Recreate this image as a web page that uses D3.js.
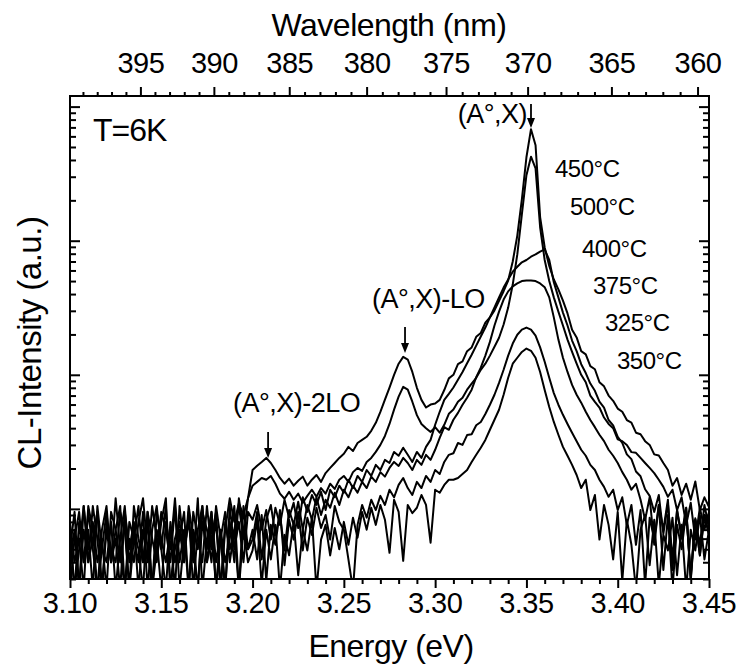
<!DOCTYPE html>
<html>
<head>
<meta charset="utf-8">
<script src="https://cdn.jsdelivr.net/npm/d3@7"></script>
<style>
  body { margin: 0; background: #fff; }
  svg text { font-family: "Liberation Sans", Arial, sans-serif; fill: #000; }
</style>
</head>
<body>
<svg id="chart" width="740" height="671"></svg>
<script>
// CL spectra at T = 6 K, sampled every 2.5 meV from 3.10 eV to 3.45 eV
const energyStart = 3.10;
const energyStep = 0.0025;

const cl450 = [6, 2.5, 8, 4, 9.5, 5, 2.5, 7, 10.5, 4, 6, 2.5, 9.5, 5, 8, 2.5, 7, 4, 10.5, 6, 2.5, 8, 5, 12, 4, 7, 2.5, 9.5, 6, 4, 10.5, 5, 8, 2.5, 7, 12,
  8, 11, 9, 12,
  19.5, 21, 22.4, 24, 22, 19.5, 17, 15.4, 16.8, 14.9,
  16.2, 17.4, 14.9, 16.5, 17.9, 15.9, 18.5, 20.2, 22, 24,
  25.8, 29, 27, 31, 32.7, 34.5, 38.2, 43.8, 52.9, 65.2,
  80.2, 100, 121, 136, 130, 105, 80, 65, 57, 60,
  61, 65, 77, 94, 100, 120, 126, 150, 160, 192,
  205, 245, 268, 302, 356, 420, 505, 700, 1092, 2035,
  4190, 6787, 5150, 1500, 890, 648, 514, 433, 357, 287,
  217, 190, 150, 142, 116, 110, 88, 82, 70, 64,
  56, 53, 46, 44, 37, 36, 32, 30, 25.5, 25,
  22, 19.5, 14.9, 17, 12.7, 15.4, 11.7, 16, 9.8, 12.2, 10.3];

const cl500 = [4, 7, 2.5, 10.5, 5, 8, 4, 6, 2.5, 9.5, 7, 4, 8, 2.5, 10.5, 6, 4, 9.5, 2.5, 7, 5, 10.5, 2.5, 6, 8, 4, 9.5, 2.5, 7, 10.5, 4, 6, 9.5, 2.5, 8, 5, 7, 10.5, 6, 12,
  14.9, 15.9, 17, 16.5, 17.6, 15.4, 13, 11.9, 13.4, 11.7,
  13, 11.1, 12.5, 13.9, 12.3, 14.3, 13, 15.4, 14.1, 16.5,
  17.6, 15.9, 18.8, 20.2, 19.2, 22.4, 24, 26.6, 30, 35,
  43, 55, 68.7, 81.3, 77.4, 63, 50, 43, 40, 37.5,
  40.7, 37, 42.4, 51.2, 55, 63, 67.5, 77.4, 86, 95,
  109, 121, 139, 162, 189, 237, 317, 471, 790, 1572,
  3080, 4235, 3460, 1260, 718, 500, 378, 296, 233, 183,
  148, 121, 100, 88, 70, 62.8, 57, 48, 43, 40,
  33, 32, 30, 26.5, 26.2, 24, 22, 20.2, 18.5, 16.5,
  14.6, 12.3, 13.9, 9.8, 12.2, 7.6, 11.1, 5.9, 10.2, 7, 9.5];

const cl400 = [8, 4, 6, 2.5, 10.5, 7, 2.5, 5, 9.5, 4, 7, 10.5, 2.5, 6, 4, 8, 12, 5, 2.5, 9.5, 6, 4, 7, 2.5, 10.5, 5, 8, 4, 12, 2.5, 6, 9.5, 4, 7, 2.5, 10.5, 5, 8, 4, 9.5,
  8.3, 10.7, 7, 9.8, 5.9, 10.2, 7.6, 11.7, 8.6, 11.1,
  7.2, 12.2, 9.5, 12.7, 10.7, 13.4, 9.8, 13.9, 12.2, 14.9,
  13.2, 16.5, 14.3, 17.6, 15.9, 19.5, 17.6, 21.3, 19.5, 23.2,
  22, 26.6, 24.9, 28.6, 25.3, 22.4, 26.6, 24, 29, 32.7,
  42.4, 53, 65, 72, 80.4, 92, 105, 122, 141, 165,
  193, 225, 268, 318, 378, 447, 514, 588, 640, 690,
  718, 760, 790, 830, 861, 718, 490, 378, 291, 233,
  180, 150, 120, 103, 86, 76, 63, 57, 46, 42,
  34.5, 31, 25.5, 23.5, 19, 17.5, 14, 12.5, 9.5, 12.7,
  6.5, 11, 4.2, 9.8, 6.4, 10.2, 3, 8.5, 5.4, 10.7, 7.2];

const cl375 = [5, 9.5, 2.5, 7, 4, 10.5, 6, 2.5, 8, 5, 4, 9.5, 7, 2.5, 6, 10.5, 4, 8, 2.5, 5, 9.5, 7, 4, 10.5, 2.5, 6, 8, 5, 2.5, 9.5, 7, 4, 10.5, 6, 2.5, 8, 4, 12, 7, 5,
  5.9, 9.5, 4.2, 8.3, 10.7, 6.4, 9, 4.9, 9.8, 7.6,
  11.3, 7, 10.7, 8.3, 12.2, 9, 11.7, 10.2, 13.2, 10.7,
  13.9, 12.2, 14.9, 13.2, 15.9, 14.3, 17.4, 15.9, 18.8, 17.4,
  20.2, 22.4, 20.9, 24, 22, 19.5, 23.2, 21.3, 25.3, 23.2,
  27.6, 33.8, 40.7, 38.9, 46.2, 52, 59.8, 67.5, 77.4,
  96, 113, 139, 176, 233, 296, 364, 419, 456, 480,
  500, 505, 505, 500, 480, 450,
  378, 268, 183, 134, 105, 84, 71, 62, 53, 46, 40.7, 35.7, 32, 27.6, 24.9, 22, 18.8, 16.5, 13.9, 15.4, 11.7,
  8.3, 12.2, 5.4, 10.7, 7, 11.7, 3.5, 9.8, 6, 10.2, 2.9, 8.3, 4.5, 9, 6.4];

const cl325 = [7, 2.5, 5, 10.5, 4, 6, 9.5, 2.5, 7, 4, 12, 5, 2.5, 8, 6, 4, 9.5, 2.5, 7, 10.5, 5, 2.5, 8, 4, 6, 9.5, 2.5, 7, 5, 10.5, 4, 8, 2.5, 6, 9.5, 4, 7, 2.5, 10.5, 5,
  7, 4.2, 9, 2.9, 7.6, 5.4, 9.8, 3.8, 8.3, 5.9,
  9.5, 4.9, 8.6, 6.4, 10.2, 7.2, 9, 5.9, 10.5, 8,
  7, 4.2, 2.5, 7.6, 10.7, 8.6, 11.7, 9.8, 12.5, 10.7,
  13.9, 12.2, 15.1, 17, 14.3, 12.7, 15.9, 14.3, 17.6, 15.9,
  19.5, 18.2, 22.4, 25.3, 26, 31, 30, 35.5, 36, 42,
  44.5, 51, 59.8, 71, 87, 109, 139, 171, 199, 217,
  225, 217, 196, 160, 125, 95, 73, 59.8, 50.3, 43,
  37, 32, 27.6, 24.9, 21.3, 19.5, 16.5, 14.6, 12.3, 13.9,
  9.8, 12.2, 7.6, 10.7, 5.4, 9.8, 2.7, 8.6, 5.9, 10.7,
  3.5, 9, 2.5, 7.6, 5, 9.5, 3.2, 8.3, 4.5, 9, 6.4];

const cl350 = [2.5, 6, 9.5, 4, 7, 2.5, 10.5, 5, 4, 8, 2.5, 6, 10.5, 4, 7, 5, 2.5, 9.5, 6, 4, 8, 12, 2.5, 5, 7, 4, 10.5, 6, 2.5, 8, 5, 9.5, 2.5, 7, 4, 6, 10.5, 2.5, 7, 4,
  4.9, 8.3, 2.7, 7, 4.2, 7.6, 2.5, 6.4, 4.5, 8,
  3.2, 7, 4.9, 8.6, 2.5, 5.9, 7.6, 4.5, 7.2, 5,
  8, 5.4, 8.6, 6.1, 9.5, 7, 10.2, 7.6, 10.7, 8.3,
  4.7, 11.7, 9.5, 4.1, 10.7, 9.3, 10.2, 12.7, 10.7, 5.6,
  13.9, 13.2, 15.1, 16.5,
  16.5, 17, 18.2, 19.5, 22.4, 25.3, 28.6, 32.7, 38.9, 46.2, 54.9, 71, 95, 121, 134, 148, 157,
  151, 134, 105, 77, 57.6, 44.5, 35.7, 29, 24.9, 21.3, 17.9, 14.3,
  16.5, 9.8, 12.7, 5.9, 10.7, 7.6, 4.2, 9.5, 2.9, 8.3, 5.4, 2.5, 7, 9, 3.8, 8.3, 2.7, 6.4, 4.9, 8.6, 3.2, 7.6, 2.5, 7, 4.9, 9, 4.2, 7];

const seriesLabels = ["450°C", "500°C", "400°C", "375°C", "325°C", "350°C"];
const seriesValues = [cl450, cl500, cl400, cl375, cl325, cl350];

const energyTicks = [3.10, 3.15, 3.20, 3.25, 3.30, 3.35, 3.40, 3.45];
const wavelengthTicks = [395, 390, 385, 380, 375, 370, 365, 360];
const intensityDecades = [10, 100, 1000, 10000];

// Peak positions marked by arrows (eV)
const peakMarks = [
  { text: "(A°,X)", energy: 3.3525 },
  { text: "(A°,X)-LO", energy: 3.2835 },
  { text: "(A°,X)-2LO", energy: 3.2085 }
];

const hc = 1239.84; // eV·nm

const plot = { left: 70, right: 709, top: 96, bottom: 579 };

const svg = d3.select("#chart");

const x = d3.scaleLinear().domain([3.10, 3.45]).range([plot.left, plot.right]);
const y = d3.scaleLog().domain([3, 12000]).range([plot.bottom, plot.top]);

svg.append("defs").append("clipPath").attr("id", "plotClip")
  .append("rect")
  .attr("x", plot.left).attr("y", plot.top)
  .attr("width", plot.right - plot.left).attr("height", plot.bottom - plot.top);

// spectra
const line = d3.line()
  .x(d => x(d.e))
  .y(d => y(d.v));

const spectra = svg.append("g").attr("clip-path", "url(#plotClip)");
seriesValues.forEach(vals => {
  const pts = vals.map((v, i) => ({ e: energyStart + i * energyStep, v }));
  spectra.append("path")
    .datum(pts)
    .attr("fill", "none")
    .attr("stroke", "#000")
    .attr("stroke-width", 2)
    .attr("stroke-linejoin", "round")
    .attr("d", line);
});

// axes
const axisStroke = 2;
function styleAxis(g) {
  g.select(".domain").remove();
  g.selectAll(".tick line").attr("stroke", "#000").attr("stroke-width", axisStroke);
  g.selectAll(".tick text").remove();
}

const minorEnergy = d3.range(0, 36).map(k => +(3.10 + k * 0.01).toFixed(2))
  .filter(e => !energyTicks.some(t => Math.abs(t - e) < 1e-6));

svg.append("g").attr("transform", `translate(0,${plot.bottom})`)
  .call(d3.axisBottom(x).tickValues(energyTicks).tickSize(9).tickSizeOuter(0))
  .call(styleAxis);
svg.append("g").attr("transform", `translate(0,${plot.bottom})`)
  .call(d3.axisBottom(x).tickValues(minorEnergy).tickSize(5).tickSizeOuter(0))
  .call(styleAxis);

// log intensity ticks, pointing inward on both sides
const minorIntensity = [];
[1, 10, 100, 1000, 10000].forEach(d => {
  for (let m = 2; m <= 9; m++) {
    const v = d * m;
    if (v >= 3 && v <= 12000) minorIntensity.push(v);
  }
});

[[d3.axisRight, plot.left], [d3.axisLeft, plot.right]].forEach(([ax, xp]) => {
  svg.append("g").attr("transform", `translate(${xp},0)`)
    .call(ax(y).tickValues(intensityDecades).tickSize(10).tickSizeOuter(0))
    .call(styleAxis);
  svg.append("g").attr("transform", `translate(${xp},0)`)
    .call(ax(y).tickValues(minorIntensity).tickSize(6).tickSizeOuter(0))
    .call(styleAxis);
});

// top wavelength axis (nm), ticks outward
const topAxis = svg.append("g");
for (let lam = 360; lam <= 399; lam++) {
  const e = hc / lam;
  if (e < 3.10 || e > 3.45) continue;
  const major = lam % 5 === 0;
  topAxis.append("line")
    .attr("x1", x(e)).attr("x2", x(e))
    .attr("y1", plot.top).attr("y2", plot.top - (major ? 9 : 4))
    .attr("stroke", "#000").attr("stroke-width", axisStroke);
}

// frame
svg.append("rect")
  .attr("x", plot.left).attr("y", plot.top)
  .attr("width", plot.right - plot.left).attr("height", plot.bottom - plot.top)
  .attr("fill", "none").attr("stroke", "#000").attr("stroke-width", axisStroke);

// tick labels
const tickFont = 29;
svg.append("g").selectAll("text").data(energyTicks).join("text")
  .attr("x", d => x(d)).attr("y", 613)
  .attr("text-anchor", "middle")
  .attr("font-size", tickFont).attr("letter-spacing", "-0.5px")
  .text(d => d3.format(".2f")(d));

svg.append("g").selectAll("text").data(wavelengthTicks).join("text")
  .attr("x", d => x(hc / d)).attr("y", 73)
  .attr("text-anchor", "middle")
  .attr("font-size", tickFont).attr("letter-spacing", "-0.5px")
  .text(d => d);

// axis titles
svg.append("text").attr("x", 391).attr("y", 657)
  .attr("text-anchor", "middle").attr("font-size", 32).attr("letter-spacing", "-0.5px")
  .text("Energy (eV)");
svg.append("text").attr("x", 389).attr("y", 36)
  .attr("text-anchor", "middle").attr("font-size", 32).attr("letter-spacing", "-0.5px")
  .text("Wavelength (nm)");
svg.append("text")
  .attr("transform", "translate(41,343) rotate(-90)")
  .attr("text-anchor", "middle").attr("font-size", 33).attr("letter-spacing", "-0.5px")
  .text("CL-Intensity (a.u.)");

// temperature
svg.append("text").attr("x", 93).attr("y", 141)
  .attr("font-size", 32).attr("letter-spacing", "-1px")
  .text("T=6K");

// growth-temperature labels
const labelPos = [[555, 177], [570, 215], [582, 257], [593, 294], [605, 331], [617, 369]];
seriesLabels.forEach((t, k) => {
  svg.append("text").attr("x", labelPos[k][0]).attr("y", labelPos[k][1])
    .attr("font-size", 24).attr("letter-spacing", "-0.5px")
    .text(t);
});

// peak annotations with arrows
const markLayout = [
  { tx: 527, ty: 123, anchor: "end", y0: 104, y1: 128 },
  { tx: 372, ty: 308, anchor: "start", y0: 327, y1: 353 },
  { tx: 233, ty: 412, anchor: "start", y0: 432, y1: 458 }
];
peakMarks.forEach((m, k) => {
  const L = markLayout[k];
  const ax = x(m.energy);
  svg.append("text").attr("x", L.tx).attr("y", L.ty)
    .attr("text-anchor", L.anchor).attr("font-size", 27).attr("letter-spacing", "-0.5px")
    .text(m.text);
  svg.append("line").attr("x1", ax).attr("x2", ax)
    .attr("y1", L.y0).attr("y2", L.y1 - 8)
    .attr("stroke", "#000").attr("stroke-width", 1.8);
  svg.append("path")
    .attr("d", `M${ax - 4},${L.y1 - 10} L${ax + 4},${L.y1 - 10} L${ax},${L.y1} Z`)
    .attr("fill", "#000");
});
</script>
</body>
</html>
